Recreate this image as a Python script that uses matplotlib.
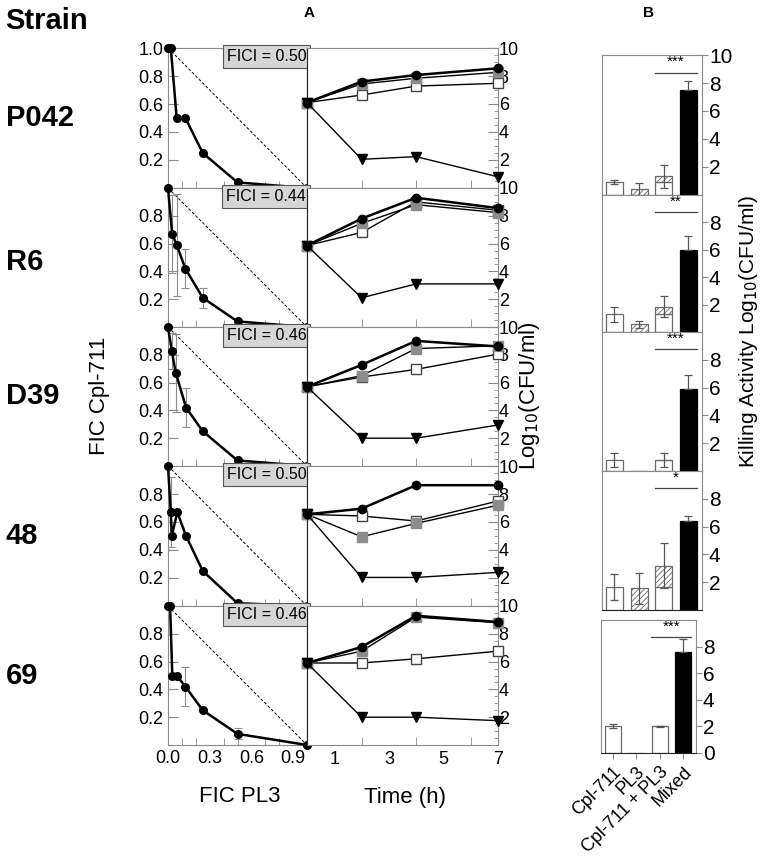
import matplotlib
matplotlib.use("Agg")
import matplotlib.pyplot as plt
import numpy as np

plt.rcParams['font.family'] = ['Liberation Sans', 'DejaVu Sans']
plt.rcParams['hatch.linewidth'] = 0.6

# ---- data ----
strains = ["P042", "R6", "D39", "48", "69"]
fici = ["0.50", "0.44", "0.46", "0.50", "0.46"]

fic_pl3 = [
    [0, 0.02, 0.0625, 0.125, 0.25, 0.5, 1.0],
    [0, 0.03, 0.0625, 0.125, 0.25, 0.5, 1.0],
    [0, 0.027, 0.056, 0.13, 0.25, 0.5, 1.0],
    [0, 0.02, 0.027, 0.067, 0.13, 0.25, 0.5, 1.0],
    [0, 0.015, 0.031, 0.0625, 0.125, 0.25, 0.5, 1.0],
]
fic_cpl = [
    [1.0, 1.0, 0.5, 0.5, 0.25, 0.04, 0.0],
    [1.0, 0.67, 0.59, 0.42, 0.21, 0.04, 0.0],
    [1.0, 0.83, 0.67, 0.42, 0.25, 0.04, 0.0],
    [1.0, 0.67, 0.5, 0.67, 0.5, 0.25, 0.02, 0.0],
    [1.0, 1.0, 0.5, 0.5, 0.42, 0.25, 0.08, 0.0],
]
fic_err = [
    [0, 0, 0, 0, 0, 0, 0],
    [0, 0.28, 0.37, 0.14, 0.07, 0, 0],
    [0, 0.13, 0.28, 0.14, 0, 0, 0],
    [0, 0.25, 0, 0, 0, 0, 0, 0],
    [0, 0, 0, 0, 0.14, 0, 0.04, 0],
]

time_h = [0, 2, 4, 7]
ctrl = [[6.1, 7.6, 8.07, 8.55], [5.86, 7.8, 9.3, 8.55], [5.7, 7.27, 9.0, 8.6],
        [6.55, 6.95, 8.63, 8.63], [5.9, 7.05, 9.3, 8.85]]
gray_sq = [[6.1, 7.43, 7.84, 8.26], [5.86, 7.45, 8.8, 8.23], [5.7, 6.5, 8.45, 8.65],
           [6.55, 4.94, 5.9, 7.2], [5.9, 6.75, 9.2, 8.8]]
open_sq = [[6.1, 6.64, 7.28, 7.48], [5.86, 6.8, 9.0, 8.4], [5.7, 6.4, 6.95, 8.05],
           [6.55, 6.43, 6.07, 7.5], [5.9, 5.9, 6.2, 6.75]]
combo_tk = [[6.1, 2.05, 2.24, 0.8], [5.86, 2.1, 3.1, 3.1], [5.7, 2.0, 2.0, 2.95],
            [6.55, 2.04, 2.04, 2.4], [5.9, 2.0, 2.0, 1.75]]

bar_labels = ["Cpl-711", "PL3", "Cpl-711 + PL3", "Mixed"]
kill_cpl = [0.93, 1.3, 0.8, 1.65, 2.0]
kill_cpl_err = [0.15, 0.55, 0.5, 0.95, 0.15]
kill_pl3 = [0.4, 0.55, 0.0, 1.55, 0.0]
kill_pl3_err = [0.45, 0.25, 0.0, 1.1, 0.0]
kill_sum_err = [0.8, 0.75, 0.5, 1.6, 0.05]
kill_mixed = [7.5, 6.0, 5.9, 6.4, 7.6]
kill_mixed_err = [0.65, 1.0, 1.0, 0.35, 1.0]
stars = ["***", "**", "***", "*", "***"]

# ---- layout (pixels) ----
W, H = 765, 868
fig = plt.figure(figsize=(W / 100, H / 100), dpi=100)

def rect(x0, y0, x1, y1):
    return [x0 / W, 1 - y1 / H, (x1 - x0) / W, (y1 - y0) / H]

row_edges = [48, 188, 327, 466, 606, 745]
bar_rows = [(55, 195, 602, 702), (195, 332, 602, 702), (332, 471, 602, 702),
            (471, 610, 602, 702), (620, 753, 601, 696)]
frame = '#8a8a8a'

for i in range(5):
    top, bot = row_edges[i], row_edges[i + 1]

    # isobologram
    ax = fig.add_axes(rect(168, top, 307, bot))
    ax.plot([0, 1], [1, 0], ls=(0, (3, 2)), color='black', lw=0.7)
    ax.errorbar(fic_pl3[i], fic_cpl[i], yerr=fic_err[i], fmt='none',
                ecolor='#8c8c8c', elinewidth=0.8, capsize=3, capthick=0.8)
    ax.plot(fic_pl3[i], fic_cpl[i], '-o', color='black', lw=1.8, ms=5.5, clip_on=False, zorder=5)
    ax.set_xlim(0, 1)
    ax.set_ylim(0, 1)
    ax.set_xticks([0, 0.3, 0.6, 0.9])
    ax.set_xticks(np.arange(0, 1.01, 0.1), minor=True)
    if i == 0:
        ax.set_yticks([0.2, 0.4, 0.6, 0.8, 1.0])
    else:
        ax.set_yticks([0.2, 0.4, 0.6, 0.8])
    ax.tick_params(axis='both', which='both', direction='in', color=frame, labelsize=13)
    ax.tick_params(axis='x', which='major', length=0)
    ax.tick_params(axis='x', which='minor', length=5)
    ax.tick_params(axis='y', length=7)
    if i < 4:
        ax.tick_params(axis='x', labelbottom=False)
    else:
        ax.set_xticklabels(["0.0", "0.3", "0.6", "0.9"])
    for s in ax.spines.values():
        s.set_color(frame)
    ax.spines['right'].set_color('#222222')
    ax.text(0.995, 0.99, "FICI = " + fici[i], transform=ax.transAxes, ha='right', va='top',
            fontsize=11.5, bbox=dict(boxstyle='square,pad=0.25', fc='#d6d6d6', ec='#555555', lw=0.8))

    # time kill
    tx = fig.add_axes(rect(307, top, 498, bot))
    tx.plot(time_h, open_sq[i], '-s', color='black', mfc='white', mec='#444444', lw=1.0, ms=7, clip_on=False, zorder=3)
    tx.plot(time_h, gray_sq[i], '-s', color='black', mfc='#8c8c8c', mec='#8c8c8c', lw=1.0, ms=7, clip_on=False, zorder=4)
    tx.plot(time_h, ctrl[i], '-o', color='black', lw=1.8, ms=6, clip_on=False, zorder=5)
    tx.plot(time_h, combo_tk[i], '-v', color='black', lw=1.0, ms=7, clip_on=False, zorder=6)
    tx.set_xlim(0, 7)
    tx.set_ylim(0, 10)
    tx.set_xticks([1, 3, 5, 7])
    tx.set_xticks([1, 2, 3, 4, 5, 6, 7], minor=True)
    tx.yaxis.tick_right()
    tx.set_yticks([2, 4, 6, 8, 10])
    tx.set_yticks(np.arange(0, 10.01, 0.5), minor=True)
    tx.tick_params(axis='both', which='both', direction='in', color=frame, labelsize=13)
    tx.tick_params(axis='x', which='major', length=0, pad=4)
    tx.tick_params(axis='x', which='minor', length=6)
    tx.tick_params(axis='y', which='major', length=7, pad=0.5)
    tx.tick_params(axis='y', which='minor', length=3)
    if i < 4:
        tx.tick_params(axis='x', labelbottom=False)
    for s in tx.spines.values():
        s.set_color(frame)
    tx.spines['left'].set_color('#222222')

    # killing activity bars
    bt, bb, bl, br = bar_rows[i]
    bx = fig.add_axes(rect(bl, bt, br, bb))
    w = 0.69
    bx.bar(0, kill_cpl[i], w, color='white', edgecolor='#6a6a6a', lw=0.9)
    bx.bar(1, kill_pl3[i], w, color='white', edgecolor='#6a6a6a', hatch='//////', lw=0.9)
    bx.bar(2, kill_cpl[i], w, color='white', edgecolor='#6a6a6a', lw=0.9)
    bx.bar(2, kill_pl3[i], w, bottom=kill_cpl[i], color='white', edgecolor='#6a6a6a',
           hatch='//////', lw=0.9)
    bx.bar(3, kill_mixed[i], w, color='black', edgecolor='black', lw=0.9)
    ek = dict(ecolor='#555555', elinewidth=0.9, capsize=3, capthick=0.9, fmt='none')
    bx.errorbar(0, kill_cpl[i], yerr=kill_cpl_err[i], **ek)
    if kill_pl3[i] > 0:
        bx.errorbar(1, kill_pl3[i], yerr=kill_pl3_err[i], **ek)
    bx.errorbar(2, kill_cpl[i] + kill_pl3[i], yerr=kill_sum_err[i], **ek)
    bx.errorbar(3, kill_mixed[i], yerr=[[0], [kill_mixed_err[i]]], **ek)
    bx.plot([2 - 0.35, 3 + 0.35], [8.75, 8.75], color='#444444', lw=0.9)
    bx.text(2.5, 9.0, stars[i], ha='center', va='bottom', fontsize=11)
    bx.set_xlim(-0.5, 3.55)
    bx.set_ylim(0, 10)
    bx.yaxis.tick_right()
    if i == 0:
        bx.set_yticks([2, 4, 6, 8, 10])
    elif i == 4:
        bx.set_yticks([0, 2, 4, 6, 8])
    else:
        bx.set_yticks([2, 4, 6, 8])
    bx.tick_params(axis='y', direction='out', color=frame, labelsize=15, length=4, pad=1)
    if i == 4:
        bx.set_xticks(range(4))
        bx.set_xticklabels(bar_labels, rotation=45, ha='right', rotation_mode='anchor', fontsize=13)
        bx.tick_params(axis='x', direction='out', color=frame, length=4)
    else:
        bx.set_xticks([])
    for s in bx.spines.values():
        s.set_color(frame)
    bx.spines['bottom'].set_color('#222222')

    fig.text(6 / W, 1 - [118, 262, 396, 536, 676][i] / H, strains[i], fontsize=21,
             fontweight='bold', ha='left', va='center')

fig.text(5 / W, 1 - 21 / H, "Strain", fontsize=21, fontweight='bold', ha='left', va='center')
fig.text(309 / W, 1 - 13 / H, "A", fontsize=11, fontweight='bold', ha='center', va='center')
fig.text(648 / W, 1 - 13 / H, "B", fontsize=11, fontweight='bold', ha='center', va='center')
fig.text(100 / W, 1 - 396 / H, "FIC Cpl-711", fontsize=16, rotation=90, ha='center', va='center')
fig.text(530 / W, 1 - 396 / H, "Log$_{10}$(CFU/ml)", fontsize=16, rotation=90, ha='center', va='center')
fig.text(748 / W, 1 - 332 / H, "Killing Activity Log$_{10}$(CFU/ml)", fontsize=15, rotation=90,
         ha='center', va='center')
fig.text(240 / W, 1 - 797 / H, "FIC PL3", fontsize=16, ha='center', va='center')
fig.text(405 / W, 1 - 797 / H, "Time (h)", fontsize=16, ha='center', va='center')

fig.savefig("out.png", dpi=100)
